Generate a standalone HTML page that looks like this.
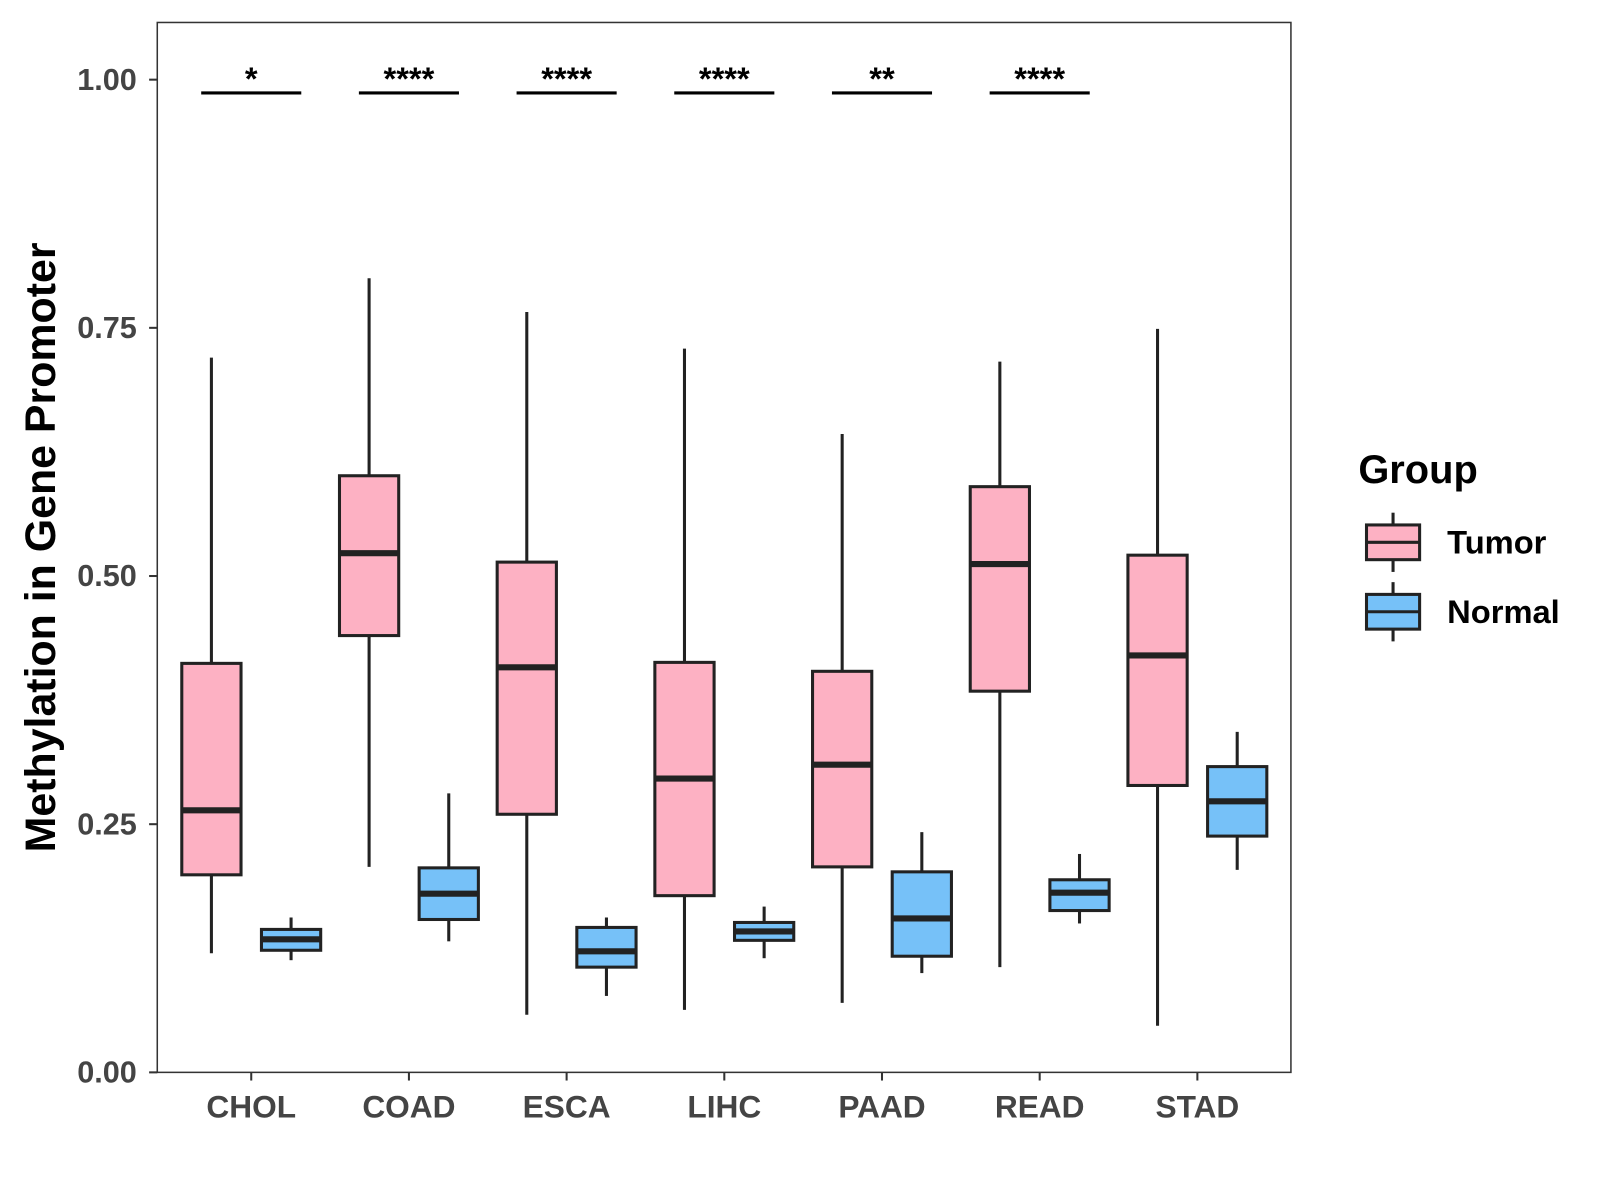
<!DOCTYPE html>
<html><head><meta charset="utf-8"><style>
html,body{margin:0;padding:0;background:#fff;}
svg{display:block;font-family:"Liberation Sans",Arial,sans-serif;}
</style></head><body>
<svg width="1600" height="1200" xmlns="http://www.w3.org/2000/svg"><g id="chart" transform="scale(1.0213)"></g></svg>
<script>
const categories=["CHOL","COAD","ESCA","LIHC","PAAD","READ","STAD"];
const tumorLow=[0.120,0.207,0.058,0.063,0.070,0.106,0.047];
const tumorQ1=[0.199,0.440,0.260,0.178,0.207,0.384,0.289];
const tumorMed=[0.264,0.523,0.408,0.296,0.310,0.512,0.420];
const tumorQ3=[0.412,0.601,0.514,0.413,0.404,0.590,0.521];
const tumorHigh=[0.720,0.800,0.766,0.729,0.643,0.716,0.749];
const normalLow=[0.113,0.132,0.077,0.115,0.100,0.150,0.204];
const normalQ1=[0.123,0.154,0.106,0.133,0.117,0.163,0.238];
const normalMed=[0.134,0.180,0.122,0.142,0.155,0.181,0.273];
const normalQ3=[0.144,0.206,0.146,0.151,0.202,0.194,0.308];
const normalHigh=[0.156,0.281,0.156,0.167,0.242,0.220,0.343];
const sigLabels=["*","****","****","****","**","****",""];
const yTicks=[0,0.25,0.5,0.75,1.0];
const yTickLabels=["0.00","0.25","0.50","0.75","1.00"];

const svg=document.getElementById('chart');
const NS="http://www.w3.org/2000/svg";
const L=154,R=1264,T=22,B=1050;
function y(v){return 1050-v*972;}
function xc(i){return 246+i*154.4;}
function mk(tag,attrs,parent){const e=document.createElementNS(NS,tag);for(const k in attrs)e.setAttribute(k,attrs[k]);(parent||svg).appendChild(e);return e;}

const panel=mk('rect',{x:L,y:T,width:R-L,height:B-T,fill:'#fff',stroke:'#333','stroke-width':1.5});



yTicks.forEach((v,i)=>{
  const t=mk('line',{x1:146,x2:L,y1:y(v),y2:y(v),stroke:'#333','stroke-width':2});
  
  
  const tx=mk('text',{x:134,y:y(v)+10,'text-anchor':'end','font-size':30,'font-weight':'bold',fill:'#444'});
  tx.textContent=yTickLabels[i];
  
  
});

function box(cx,lo,q1,md,q3,hi,fill,name){
  const g=mk('g',{});
  
  
  mk('line',{x1:cx,x2:cx,y1:y(hi),y2:y(q3),stroke:'#222','stroke-width':3},g);
  mk('line',{x1:cx,x2:cx,y1:y(q1),y2:y(lo),stroke:'#222','stroke-width':3},g);
  mk('rect',{x:cx-29,y:y(q3),width:58,height:y(q1)-y(q3),fill:fill,stroke:'#222','stroke-width':3},g);
  mk('line',{x1:cx-29,x2:cx+29,y1:y(md),y2:y(md),stroke:'#222','stroke-width':6},g);
}

categories.forEach((c,i)=>{
  const cx=xc(i);
  box(cx-39,tumorLow[i],tumorQ1[i],tumorMed[i],tumorQ3[i],tumorHigh[i],'#fdb1c3','tumor-box-'+c.toLowerCase());
  box(cx+39,normalLow[i],normalQ1[i],normalMed[i],normalQ3[i],normalHigh[i],'#76c1f8','normal-box-'+c.toLowerCase());
  const t=mk('line',{x1:cx,x2:cx,y1:B,y2:B+8,stroke:'#333','stroke-width':2});
  
  
  const lb=mk('text',{x:cx,y:1094,'text-anchor':'middle','font-size':31,'font-weight':'bold',fill:'#444'});
  lb.textContent=c;
  
  
  if(sigLabels[i]){
    const sl=mk('line',{x1:cx-49,x2:cx+49,y1:91,y2:91,stroke:'#000','stroke-width':3});
    
    
    const st=mk('text',{x:cx,y:88,'text-anchor':'middle','font-size':32,'font-weight':'bold',fill:'#000'});
    st.textContent=sigLabels[i];
    
    
  }
});

const yl=mk('text',{x:0,y:0,transform:'translate(54,536) rotate(-90)','text-anchor':'middle','font-size':42,'font-weight':'bold',fill:'#000'});
yl.textContent='Methylation in Gene Promoter';



const lg=mk('text',{x:1330,y:473,'font-size':39,'font-weight':'bold',fill:'#000'});
lg.textContent='Group';


[['Tumor','#fdb1c3',531],['Normal','#76c1f8',599]].forEach(([n,f,cy])=>{
  const g=mk('g',{});
  
  
  mk('line',{x1:1364,x2:1364,y1:cy-29,y2:cy+29,stroke:'#222','stroke-width':3},g);
  mk('rect',{x:1338,y:cy-17,width:52,height:34,fill:f,stroke:'#222','stroke-width':3},g);
  mk('line',{x1:1338,x2:1390,y1:cy,y2:cy,stroke:'#222','stroke-width':3},g);
  const t=mk('text',{x:1417,y:cy+11,'font-size':32,'font-weight':'bold',fill:'#000'},g);
  t.textContent=n;
});
</script>
</body></html>
